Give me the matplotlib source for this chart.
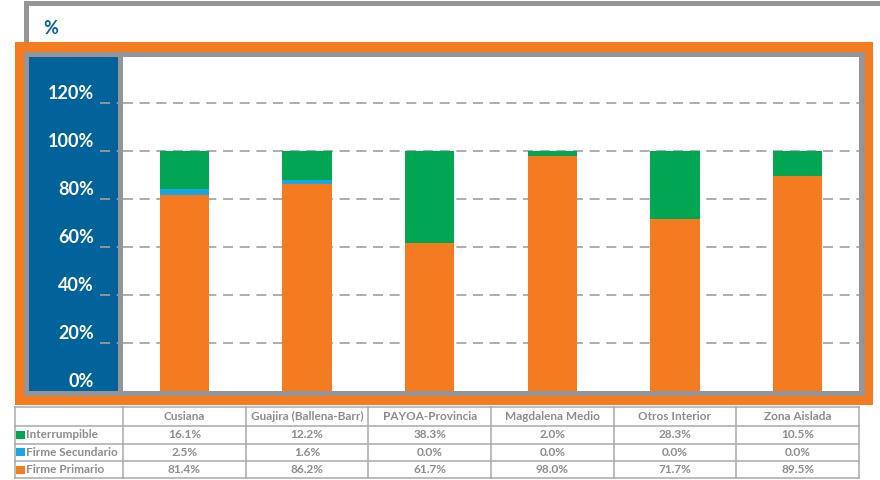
import matplotlib
matplotlib.use("Agg")
import matplotlib.pyplot as plt
from matplotlib.patches import Rectangle
import numpy as np

categories = ["Cusiana", "Guajira (Ballena-Barr)", "PAYOA-Provincia",
              "Magdalena Medio", "Otros Interior", "Zona Aislada"]
firme_primario = [81.4, 86.2, 61.7, 98.0, 71.7, 89.5]
firme_secundario = [2.5, 1.6, 0.0, 0.0, 0.0, 0.0]
interrumpible = [16.1, 12.2, 38.3, 2.0, 28.3, 10.5]
yticks = [0, 20, 40, 60, 80, 100, 120]

ORANGE = "#F47B20"
GREEN = "#00A651"
CYAN = "#1AA7E1"
BLUE = "#02629A"
GRAY = "#939598"
TXT = "#8A8C8E"

plt.rcParams['font.family'] = ['Lato', 'DejaVu Sans']

W, H = 880, 480
fig = plt.figure(figsize=(8.8, 4.8), dpi=100)

def px(x0, y0, x1, y1):
    return [x0 / W, 1 - y1 / H, (x1 - x0) / W, (y1 - y0) / H]

# background decoration (pixel coords)
bg = fig.add_axes([0, 0, 1, 1], zorder=0)
bg.set_xlim(0, W)
bg.set_ylim(H, 0)
bg.axis("off")
bg.add_patch(Rectangle((24, 1), 856, 5, color=GRAY, lw=0))
bg.add_patch(Rectangle((24, 1), 5, 45, color=GRAY, lw=0))
bg.add_patch(Rectangle((15, 42), 858, 363, color=ORANGE, lw=0))
bg.add_patch(Rectangle((24, 52), 841, 344, color=GRAY, lw=0))
bg.add_patch(Rectangle((29, 57), 89, 334, color=BLUE, lw=0))
bg.text(43, 29, "%", color=BLUE, fontsize=13, fontweight="bold", va="center")

# chart
x0, x1, y0, y1 = 123, 859, 57, 391
ax = fig.add_axes(px(x0, y0, x1, y1), zorder=1)
ax.set_facecolor("white")
x = np.arange(len(categories))
bw = 0.4
ax.bar(x, firme_primario, bw, color=ORANGE, zorder=3)
ax.bar(x, firme_secundario, bw, bottom=firme_primario, color=CYAN, zorder=3)
bot2 = np.array(firme_primario) + np.array(firme_secundario)
ax.bar(x, interrumpible, bw, bottom=bot2, color=GREEN, zorder=3)
ax.set_xlim(-0.5, len(categories) - 0.5)
ax.set_ylim(0, 139)
ax.set_xticks([])
ax.set_yticks([])
for s in ax.spines.values():
    s.set_visible(False)

pw = x1 - x0
tr = ax.get_yaxis_transform()
for v in yticks:
    if v > 0:
        ax.plot([0, 1], [v, v], transform=tr, color="#A0A0A0", lw=1.2,
                ls=(0, (6, 4)), zorder=1)
        ax.plot([-23 / pw, -5 / pw], [v, v], transform=tr, color="#A0A0A0",
                lw=1.2, ls=(0, (6, 4)), clip_on=False, zorder=1)
    ax.text(-29 / pw, v + 3.8, f"{v}%", transform=tr, ha="right", va="center",
            color="white", fontsize=13, fontweight="bold", clip_on=False)

# data table under the chart
cw = pw / len(categories)
edges = [15] + [x0 + i * cw for i in range(len(categories) + 1)]
rows = [407, 426, 443.5, 461, 478]
for yy in rows:
    bg.plot([edges[0], edges[-1]], [yy, yy], color="#A7A9AC", lw=1.1)
for xx in edges:
    bg.plot([xx, xx], [rows[0], rows[-1]], color="#A7A9AC", lw=1.1)

tfont = dict(color=TXT, fontsize=8.5, fontweight="bold", va="center")
for i, c in enumerate(categories):
    bg.text(x0 + (i + 0.5) * cw, (rows[0] + rows[1]) / 2, c, ha="center", **tfont)

series = [("Interrumpible", interrumpible, GREEN),
          ("Firme Secundario", firme_secundario, CYAN),
          ("Firme Primario", firme_primario, ORANGE)]
for r, (name, vals, col) in enumerate(series):
    yc = (rows[r + 1] + rows[r + 2]) / 2
    bg.add_patch(Rectangle((16, yc - 4), 9, 8, color=col, lw=0))
    bg.text(26, yc, name, ha="left", **tfont)
    for i, v in enumerate(vals):
        bg.text(x0 + (i + 0.5) * cw, yc, f"{v:.1f}%", ha="center", **tfont)

fig.savefig("out.png", dpi=100)
